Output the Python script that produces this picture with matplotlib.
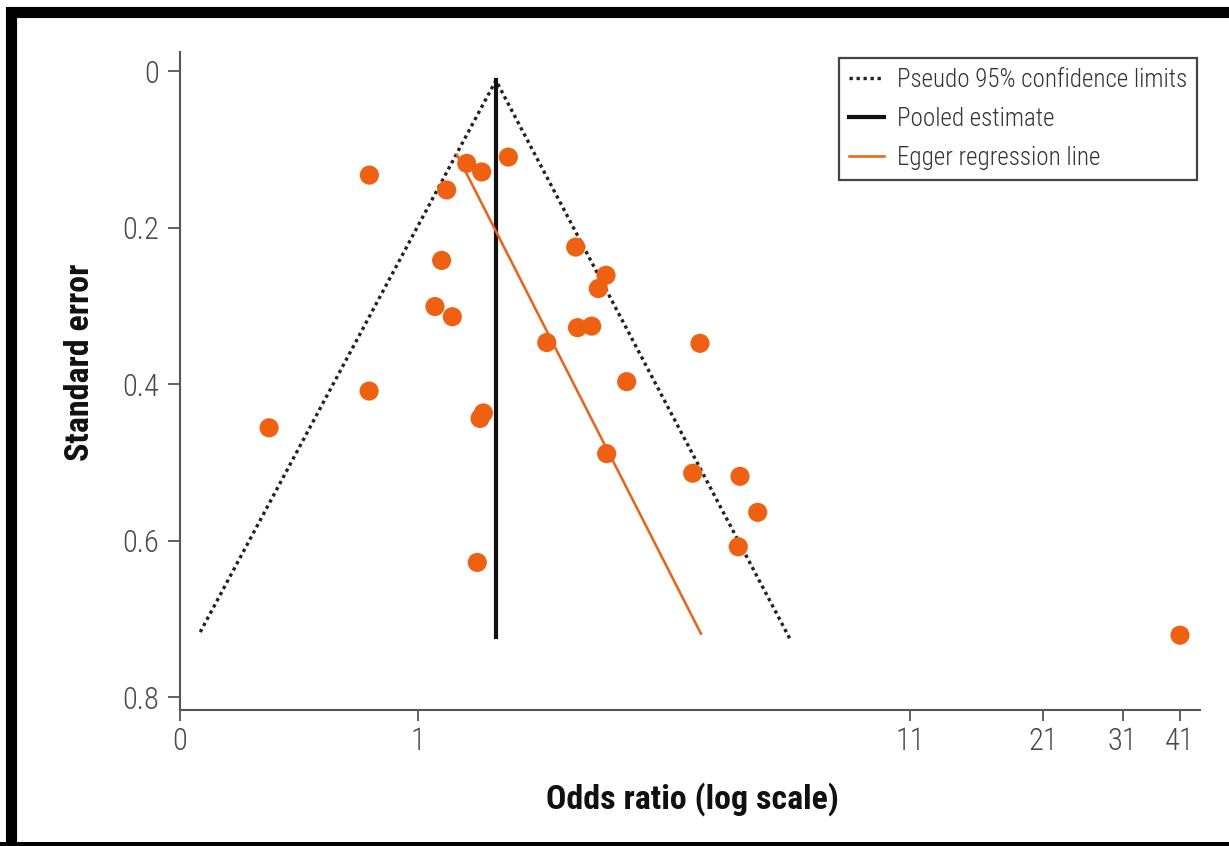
import matplotlib
matplotlib.use('Agg')
import matplotlib.pyplot as plt
from matplotlib.patches import Rectangle

plt.rcParams['font.family'] = ['Roboto Condensed', 'DejaVu Sans']

# study estimates
odds_ratio = [0.789, 1.150, 1.268, 1.364, 1.553, 1.122, 1.086, 1.182, 2.157, 2.500,
              2.408, 2.176, 2.331, 1.873, 3.952, 2.765, 0.788, 0.484, 1.375, 1.353,
              2.508, 3.814, 4.803, 5.236, 4.763, 1.335, 41.0]
std_err = [0.133, 0.152, 0.118, 0.129, 0.110, 0.242, 0.301, 0.314, 0.225, 0.261,
           0.278, 0.328, 0.326, 0.347, 0.348, 0.397, 0.409, 0.456, 0.437, 0.444,
           0.489, 0.514, 0.518, 0.564, 0.608, 0.628, 0.721]

# pseudo 95% limits (left end, apex, right end)
ci_or = [0.346, 1.462, 6.13]
ci_se = [0.717, 0.012, 0.726]

# pooled estimate
pooled_or = 1.462
pooled_se = [0.012, 0.723]

# Egger regression line
egger_or = [1.209, 3.97]
egger_se = [0.107, 0.719]

xtick_pos = [0.3135, 1, 11, 21, 31, 41]
xtick_lab = ['0', '1', '11', '21', '31', '41']
ytick_pos = [0, 0.2, 0.4, 0.6, 0.8]
ytick_lab = ['0', '0.2', '0.4', '0.6', '0.8']

orange = '#EF6010'
gray = '#555555'

fig = plt.figure(figsize=(12.29, 8.46), dpi=100)
ax = fig.add_axes([180/1229, 1 - 710/846, 1020/1229, 658/846])

ax.plot(ci_or, ci_se, color='#222222', lw=2.4, ls=(0, (1, 1.1)),
        label='Pseudo 95% confidence limits', zorder=2)
ax.plot([pooled_or, pooled_or], pooled_se, color='#111111', lw=3,
        label='Pooled estimate', zorder=3)
ax.plot(egger_or, egger_se, color=orange, lw=1.8,
        label='Egger regression line', zorder=4)
ax.scatter(odds_ratio, std_err, s=190, color=orange, edgecolors='none', zorder=5)

ax.set_xscale('log')
ax.set_xlim(0.3135, 45.2)
ax.set_ylim(0.8166, -0.0243)
ax.minorticks_off()
ax.set_xticks(xtick_pos)
ax.set_xticklabels(xtick_lab)
ax.set_yticks(ytick_pos)
ax.set_yticklabels(ytick_lab)

for s in ['top', 'right']:
    ax.spines[s].set_visible(False)
for s in ['left', 'bottom']:
    ax.spines[s].set_color(gray)
    ax.spines[s].set_linewidth(1.5)

ax.tick_params(axis='y', length=9, width=1.3, color=gray, labelcolor='#4a4a4a',
               labelsize=22, pad=6)
ax.tick_params(axis='x', length=8, width=1.3, color=gray, labelcolor='#4a4a4a',
               labelsize=22, pad=4)
for lab in ax.get_xticklabels() + ax.get_yticklabels():
    lab.set_fontweight(300)

ax.set_xlabel('Odds ratio (log scale)', fontsize=24.5, fontweight='bold', color='#111111')
ax.set_ylabel('Standard error', fontsize=24.5, fontweight='bold', color='#111111')
ax.xaxis.set_label_coords(0.502, -0.11)
ax.yaxis.set_label_coords(-0.082, 0.529)

leg = ax.legend(loc='upper right', bbox_to_anchor=(1197/1229, 1 - 58/846),
                bbox_transform=fig.transFigure, borderaxespad=0,
                prop={'size': 18, 'weight': 300},
                fancybox=False, framealpha=1, edgecolor='#444444',
                handlelength=1.4, handletextpad=0.5, labelspacing=0.6,
                borderpad=0.4, labelcolor='#333333')
leg.get_frame().set_linewidth(1.6)

# thick black frame round the picture (cut off on the right and bottom)
fig.add_artist(Rectangle((10.5/1229, -0.05), 1.1, 1 - 12.5/846 + 0.05,
                         transform=fig.transFigure, fill=False,
                         edgecolor='black', lw=8, clip_on=False))
fig.add_artist(Rectangle((0, 0), 1, 4/846, transform=fig.transFigure,
                         color='black', lw=0))

fig.savefig('out.png', dpi=100)
